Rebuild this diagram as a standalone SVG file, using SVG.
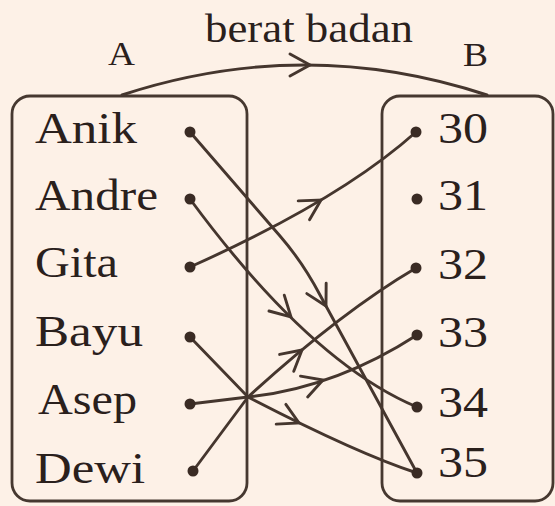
<svg xmlns="http://www.w3.org/2000/svg" width="555" height="506" viewBox="0 0 555 506">
<defs>
<style>
.bg{fill:#fdf1e7}
.box{fill:none;stroke:#463830;stroke-width:2.8}
.ln{fill:none;stroke:#45362e;stroke-width:2.9;stroke-linecap:round;stroke-linejoin:round}
.ah{fill:none;stroke:#45362e;stroke-width:2.9;stroke-linecap:round;stroke-linejoin:miter}
.dot{fill:#3a2b24}
.t{font-family:"Liberation Serif","Times New Roman",serif;fill:#2a201c}
.nm{font-size:44px}
.lb{font-size:34px}
</style>
<path id="ah" d="M-20,-11 L0,0 L-20,11"/>
</defs>
<rect class="bg" x="0" y="0" width="555" height="506"/>

<g id="title">
<text class="t" x="205" y="42" font-size="39" textLength="208" lengthAdjust="spacingAndGlyphs">berat badan</text>
</g>

<g id="set-A">
<rect class="box" x="12" y="96" width="235" height="405" rx="18"/>
<text class="t lb" x="108" y="65" textLength="27" lengthAdjust="spacingAndGlyphs">A</text>
</g>
<g id="set-B">
<rect class="box" x="382" y="96" width="171" height="405" rx="18"/>
<text class="t lb" x="463" y="66" textLength="25" lengthAdjust="spacingAndGlyphs">B</text>
</g>

<g id="connectors">
<path class="ln" d="M122,95 Q305,35 487,95"/>
<use href="#ah" class="ah" transform="translate(310,65)"/>

<path class="ln" d="M190,132 L280,236 C300,259 310,276 320,295 L417,473"/>
<use href="#ah" class="ah" transform="translate(326,306) rotate(61.6)"/>

<path class="ln" d="M190,199 Q310,362 417,407"/>
<use href="#ah" class="ah" transform="translate(291,317) rotate(44)"/>

<path class="ln" d="M190,267 Q340,200 416,132"/>
<use href="#ah" class="ah" transform="translate(321,200) rotate(-31)"/>

<path class="ln" d="M190,337 L248,397 Q356,453 417,473"/>
<use href="#ah" class="ah" transform="translate(299,423) rotate(26)"/>

<path class="ln" d="M190,404 L248,397 Q335,388 417,335"/>
<use href="#ah" class="ah" transform="translate(323,380) rotate(-19)"/>

<path class="ln" d="M193,471 L248,397 Q341,312 416,268"/>
<use href="#ah" class="ah" transform="translate(302,350) rotate(-40)"/>
</g>

<g id="anik"><text class="t nm" x="35" y="143" textLength="102" lengthAdjust="spacingAndGlyphs">Anik</text><circle class="dot" cx="190" cy="132" r="5.5"/></g>
<g id="andre"><text class="t nm" x="35" y="210" textLength="123" lengthAdjust="spacingAndGlyphs">Andre</text><circle class="dot" cx="190" cy="199" r="5.5"/></g>
<g id="gita"><text class="t nm" x="35" y="277" textLength="83" lengthAdjust="spacingAndGlyphs">Gita</text><circle class="dot" cx="190" cy="267" r="5.5"/></g>
<g id="bayu"><text class="t nm" x="35" y="346" textLength="108" lengthAdjust="spacingAndGlyphs">Bayu</text><circle class="dot" cx="190" cy="337" r="5.5"/></g>
<g id="asep"><text class="t nm" x="38" y="414" textLength="99" lengthAdjust="spacingAndGlyphs">Asep</text><circle class="dot" cx="190" cy="404" r="5.5"/></g>
<g id="dewi"><text class="t nm" x="35" y="483" textLength="110" lengthAdjust="spacingAndGlyphs">Dewi</text><circle class="dot" cx="193" cy="471" r="5.5"/></g>

<g id="n30"><circle class="dot" cx="416" cy="132" r="5.5"/><text class="t nm" x="438" y="143" textLength="50" lengthAdjust="spacingAndGlyphs">30</text></g>
<g id="n31"><circle class="dot" cx="417" cy="199" r="5.5"/><text class="t nm" x="438" y="210" textLength="50" lengthAdjust="spacingAndGlyphs">31</text></g>
<g id="n32"><circle class="dot" cx="416" cy="268" r="5.5"/><text class="t nm" x="438" y="279" textLength="50" lengthAdjust="spacingAndGlyphs">32</text></g>
<g id="n33"><circle class="dot" cx="417" cy="335" r="5.5"/><text class="t nm" x="438" y="347" textLength="50" lengthAdjust="spacingAndGlyphs">33</text></g>
<g id="n34"><circle class="dot" cx="417" cy="407" r="5.5"/><text class="t nm" x="438" y="417" textLength="50" lengthAdjust="spacingAndGlyphs">34</text></g>
<g id="n35"><circle class="dot" cx="417" cy="473" r="5.5"/><text class="t nm" x="438" y="477" textLength="50" lengthAdjust="spacingAndGlyphs">35</text></g>
</svg>
